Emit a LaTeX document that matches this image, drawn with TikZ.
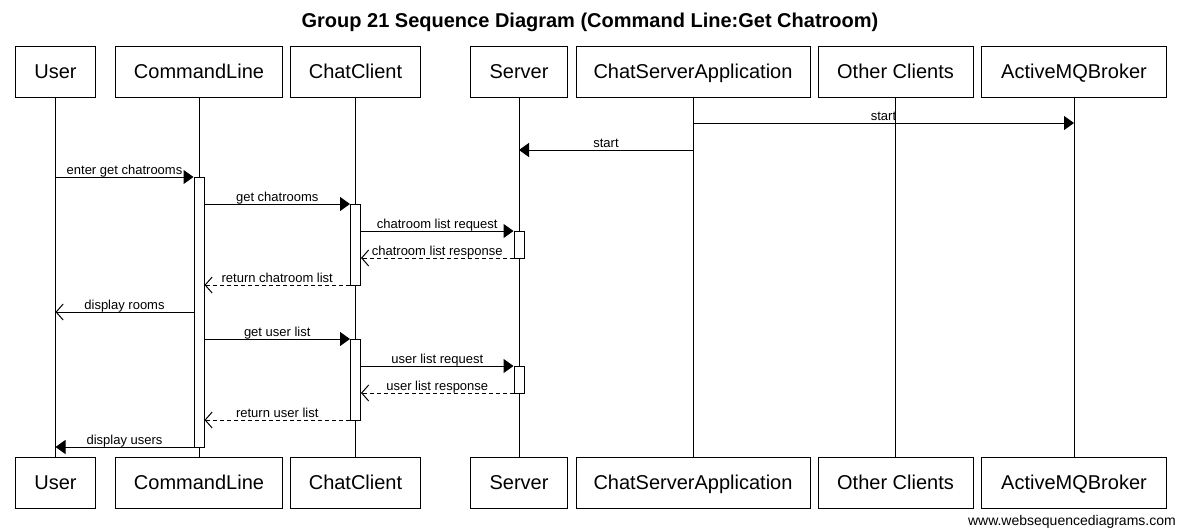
\documentclass[tikz,border=0pt]{standalone}
\usepackage{fontspec}
\setmainfont{Liberation Sans}
\usetikzlibrary{arrows.meta}
\tikzset{
	actor/.style={draw, line width=1pt, minimum height=51pt, inner sep=0pt, text height=14.5pt, text depth=0pt, font=\fontsize{20}{24}\selectfont},
	life/.style={line width=1pt},
	act/.style={draw, fill=white, line width=1pt, minimum width=10pt, inner sep=0pt},
	call/.style={line width=1pt, -{Triangle[length=10pt,width=14pt]}},
	reply/.style={line width=1pt, dash pattern=on 4pt off 3pt, -{Straight Barb[length=7pt,width=16pt]}},
	back/.style={line width=1pt, -{Straight Barb[length=7pt,width=16pt]}},
	msg/.style={anchor=south, inner sep=0pt, text height=9.5pt, text depth=2.5pt, font=\fontsize{13}{15}\selectfont}
}
\begin{document}
\begin{tikzpicture}[x=1pt, y=-1pt]
		\useasboundingbox (0,0) rectangle (1178,530);
		\node[font=\bfseries\fontsize{20}{24}\selectfont] (title) at (590,22) {Group 21 Sequence Diagram (Command Line:Get Chatroom)};
		
		\node[actor, minimum width=80pt] (user) at (55.5,71.5) {User};
		\node[actor, minimum width=167pt] (cmd) at (199,71.5) {CommandLine};
		\node[actor, minimum width=130pt] (client) at (355.5,71.5) {ChatClient};
		\node[actor, minimum width=97pt] (server) at (519,71.5) {Server};
		\node[actor, minimum width=234pt] (app) at (693,71.5) {ChatServerApplication};
		\node[actor, minimum width=155pt] (others) at (895.5,71.5) {Other Clients};
		\node[actor, minimum width=185pt] (broker) at (1074,71.5) {ActiveMQBroker};
		
		\node[actor, minimum width=80pt] (user-b) at (55.5,482.5) {User};
		\node[actor, minimum width=167pt] (cmd-b) at (199,482.5) {CommandLine};
		\node[actor, minimum width=130pt] (client-b) at (355.5,482.5) {ChatClient};
		\node[actor, minimum width=97pt] (server-b) at (519,482.5) {Server};
		\node[actor, minimum width=234pt] (app-b) at (693,482.5) {ChatServerApplication};
		\node[actor, minimum width=155pt] (others-b) at (895.5,482.5) {Other Clients};
		\node[actor, minimum width=185pt] (broker-b) at (1074,482.5) {ActiveMQBroker};
		
		\foreach \p in {user, cmd, client, server, app, others, broker}
			\draw[life] (\p.south) -- (\p-b.north);
		
		\foreach \i in {1,...,13}
			\coordinate (r\i) at (0,96+27*\i);
		
		\node[act, minimum height=270pt] (cmd-act) at (199,312) {};
		\node[act, minimum height=81pt] (client-act1) at (355.5,244.5) {};
		\node[act, minimum height=27pt] (server-act1) at (519,244.5) {};
		\node[act, minimum height=81pt] (client-act2) at (355.5,379.5) {};
		\node[act, minimum height=27pt] (server-act2) at (519,379.5) {};
		
		\draw[call] (app |- r1) -- node[msg] {start} (broker |- r1);
		\draw[call] (app |- r2) -- node[msg] {start} (server |- r2);
		\draw[call] (user |- r3) -- node[msg] {enter get chatrooms} (cmd-act.west |- r3);
		\draw[call] (cmd-act.east |- r4) -- node[msg] {get chatrooms} (client-act1.west |- r4);
		\draw[call] (client-act1.east |- r5) -- node[msg] {chatroom list request} (server-act1.west |- r5);
		\draw[reply] (server-act1.west |- r6) -- node[msg] {chatroom list response} (client-act1.east |- r6);
		\draw[reply] (client-act1.west |- r7) -- node[msg] {return chatroom list} (cmd-act.east |- r7);
		\draw[back] (cmd-act.west |- r8) -- node[msg] {display rooms} (user |- r8);
		\draw[call] (cmd-act.east |- r9) -- node[msg] {get user list} (client-act2.west |- r9);
		\draw[call] (client-act2.east |- r10) -- node[msg] {user list request} (server-act2.west |- r10);
		\draw[reply] (server-act2.west |- r11) -- node[msg] {user list response} (client-act2.east |- r11);
		\draw[reply] (client-act2.west |- r12) -- node[msg] {return user list} (cmd-act.east |- r12);
		\draw[call] (cmd-act.west |- r13) -- node[msg] {display users} (user |- r13);
		
		\node[anchor=east, inner sep=0pt, font=\fontsize{14}{16}\selectfont] (site) at (1176,522) {www.websequencediagrams.com};
	\end{tikzpicture}
\end{document}
